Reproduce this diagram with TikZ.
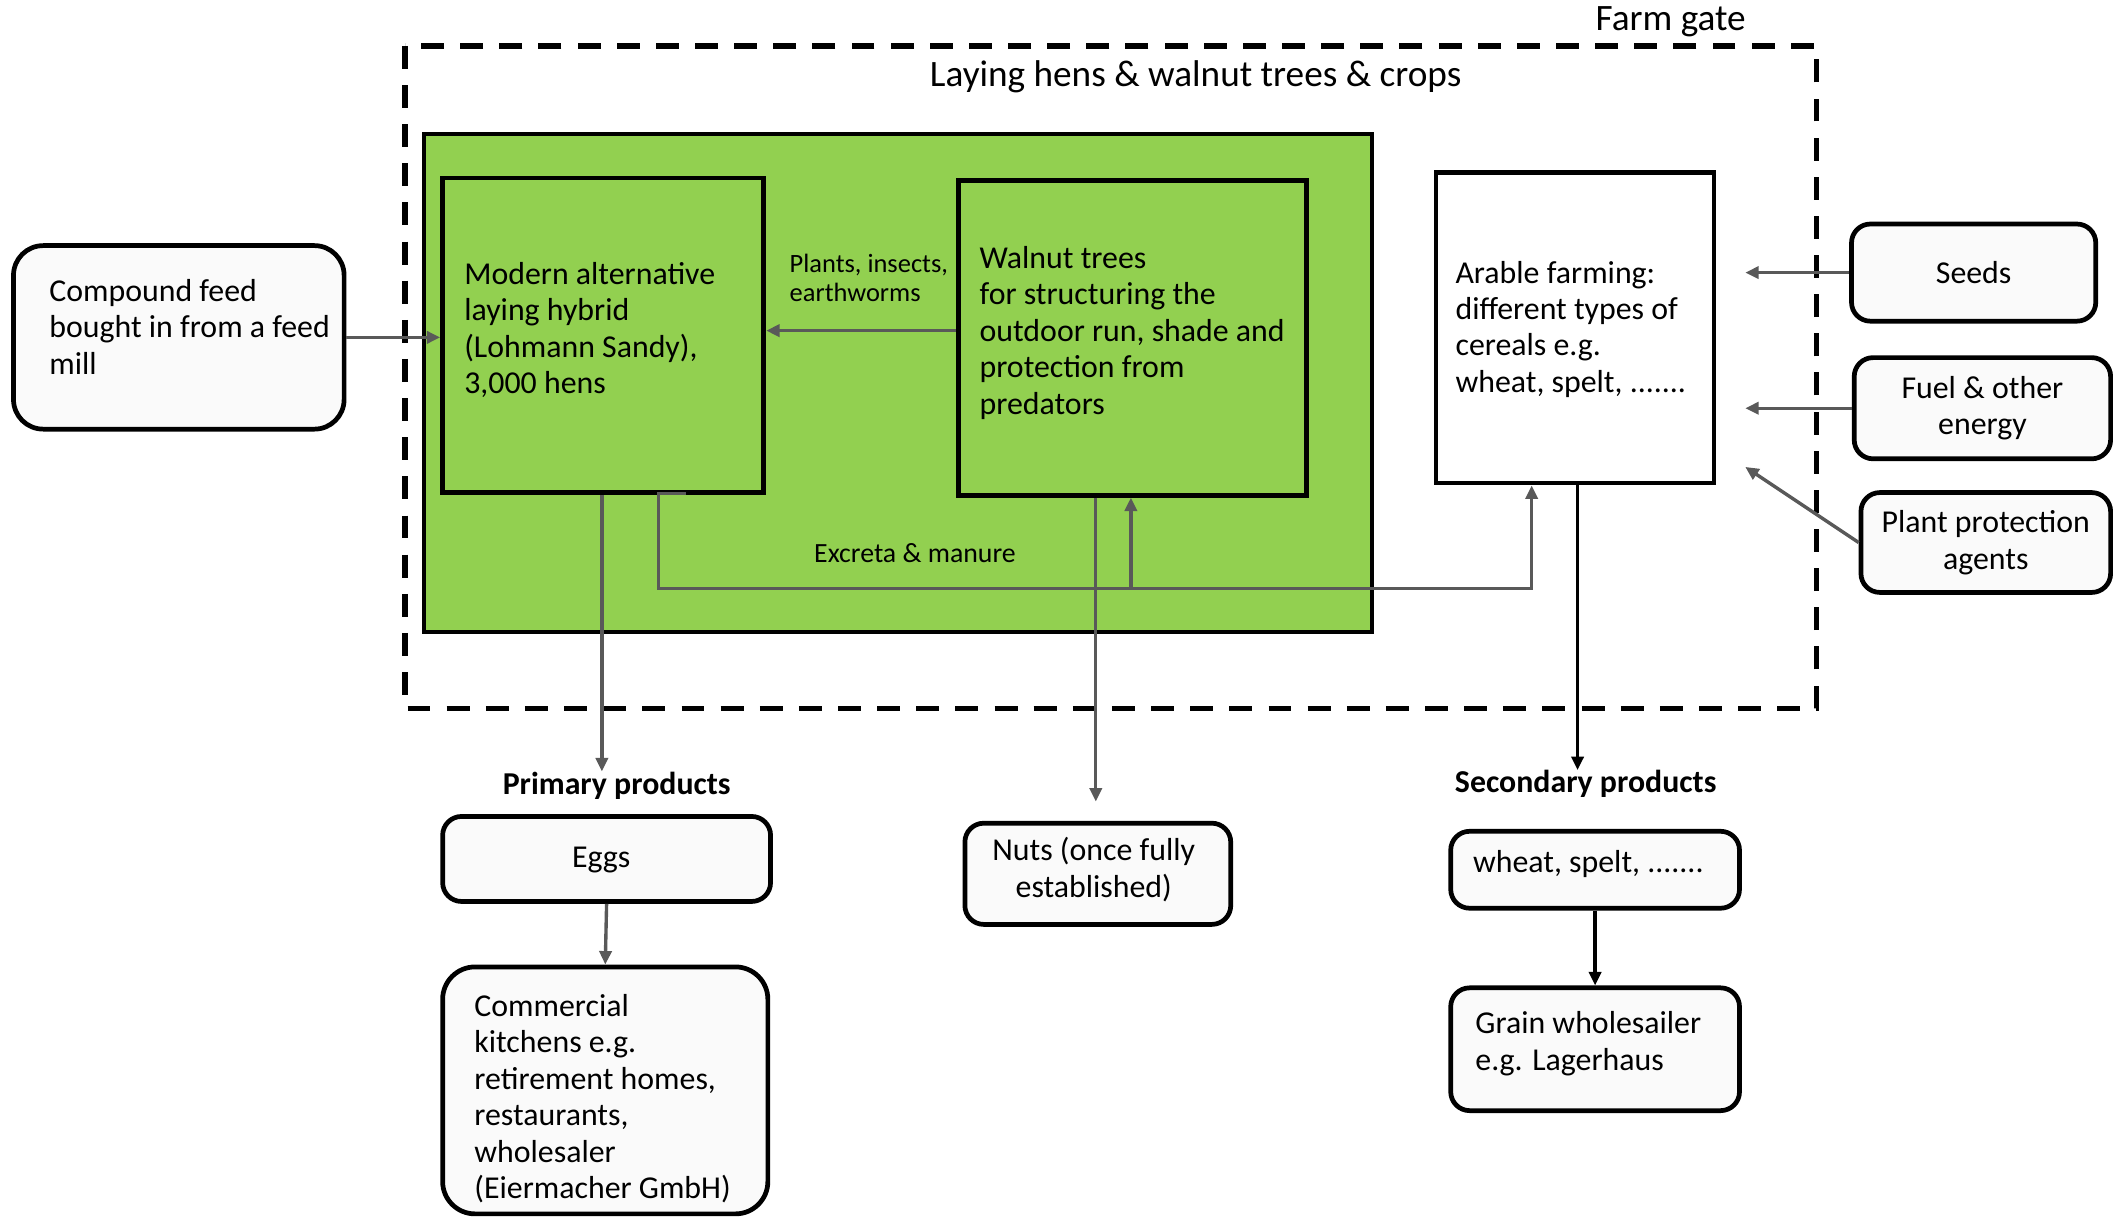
\documentclass[tikz,border=0pt]{standalone}
\usepackage{fontspec}
\setmainfont{Carlito}
\usetikzlibrary{arrows.meta,calc}
\definecolor{grassgreen}{HTML}{92D050}
\definecolor{flowgray}{HTML}{595959}
\definecolor{boxfill}{HTML}{FAFAFA}
\begin{document}
\begin{tikzpicture}[x=1pt,y=-1pt,
  every node/.style={font=\fontsize{23.6}{27}\selectfont, inner sep=0pt},
  unit/.style={draw=black, line width=3.5pt, fill=grassgreen},
  plainbox/.style={draw=black, line width=3.5pt, fill=white},
  roundbox/.style={draw=black, line width=3.5pt, fill=boxfill, rounded corners=14pt},
  boxtext/.style={align=left},
  flow/.style={draw=flowgray, line width=2.5pt, -{Triangle[length=10pt,width=9pt]}},
  gline/.style={draw=flowgray, line width=2.5pt},
  blackflow/.style={draw=black, line width=2.5pt, -{Triangle[length=10pt,width=9pt]}},
  heading/.style={font=\fontsize{23.6}{27}\selectfont\bfseries},
  small/.style={font=\fontsize{19.6}{22}\selectfont, align=left},
  bigtext/.style={font=\fontsize{27.6}{32}\selectfont},
]
\useasboundingbox (0,0) rectangle (1568,902);

% farm boundary
\draw[line width=4pt, dash pattern=on 17pt off 12pt] (300,34) rectangle (1346,525);
\node[bigtext] (gate) at (1238,16) {Farm gate};
\node[bigtext] (title) at (886,57) {Laying hens \& walnut trees \& crops};

% agroforestry area
\draw[line width=3pt, fill=grassgreen] (314,99) rectangle (1017,468);

\node[unit, minimum width=238pt, minimum height=233pt] (hens) at (447,248.5) {};
\node[boxtext] (hens-text) at ($(hens.center)+(-10,-4)$)
  {Modern alternative\\laying hybrid\\(Lohmann Sandy),\\3,000 hens};
\node[unit, minimum width=258pt, minimum height=233pt] (walnut) at (839,250.5) {};
\node[boxtext] (walnut-text) at ($(walnut.center)+(0,-4)$)
  {Walnut trees\\for structuring the\\outdoor run, shade and\\protection from\\predators};
\node[plainbox, minimum width=206pt, minimum height=230pt] (arable) at (1167,243) {};
\node[boxtext] (arable-text) at ($(arable.center)+(-3,1)$)
  {Arable farming:\\different types of\\cereals e.g.\\wheat, spelt, .......};

\node[small, anchor=west] (plants) at (585,206) {Plants, insects,\\earthworms};
\node[font=\fontsize{20.6}{24}\selectfont] (excreta) at (678,410) {Excreta \& manure};

% inputs
\node[roundbox, rounded corners=22pt, minimum width=245pt, minimum height=136pt] (feed) at (132.5,250) {};
\node[boxtext] (feed-text) at ($(feed.center)+(8,-8)$)
  {Compound feed\\bought in from a feed\\mill};
\node[roundbox, minimum width=181pt, minimum height=72pt] (seeds) at (1462.5,202) {Seeds};
\node[roundbox, align=center, minimum width=190pt, minimum height=75pt] (fuel) at (1469,302.5) {Fuel \& other\\energy};
\node[roundbox, align=center, minimum width=185pt, minimum height=74pt] (plant) at (1471.5,402) {Plant protection\\agents};

% products
\node[heading] (prim) at (457,582) {Primary products};
\node[heading] (sec) at (1175,581) {Secondary products};
\node[roundbox, minimum width=243pt, minimum height=63pt] (eggs) at (449.5,636.5) {};
\node (eggs-text) at ($(eggs.center)+(-4,1)$) {Eggs};
\node[roundbox, rounded corners=24pt, minimum width=241pt, minimum height=183pt] (kitchen) at (448.5,808) {};
\node[boxtext] (kitchen-text) at ($(kitchen.center)+(-2,6)$)
  {Commercial\\kitchens e.g.\\retirement homes,\\restaurants,\\wholesaler\\(Eiermacher GmbH)};
\node[roundbox, minimum width=197pt, minimum height=75pt] (nuts) at (813.5,647.5) {};
\node[align=center] (nuts-text) at ($(nuts.center)+(-3,-3)$) {Nuts (once fully\\established)};
\node[roundbox, minimum width=214pt, minimum height=57pt] (wheat) at (1182,644.5) {};
\node (wheat-text) at ($(wheat.center)+(-5,-4)$) {wheat, spelt, .......};
\node[roundbox, minimum width=214pt, minimum height=91pt] (grain) at (1182,777.5) {};
\node[boxtext] (grain-text) at ($(grain.center)+(-5,-4)$) {Grain wholesailer\\e.g. Lagerhaus};

% flows inside the farm
\draw[flow] (feed.east) -- (feed.east -| hens.west);
\draw[flow] ([yshift=5.5pt]walnut.west) -- ([yshift=5.5pt]walnut.west -| hens.east);

\coordinate (manure) at (838,436);
\draw[gline] ([xshift=61pt,yshift=1pt]hens.south) -- ([xshift=41pt,yshift=1pt]hens.south) |- (manure);
\draw[flow] (manure) -- (manure |- walnut.south);
\draw[flow] (manure) -| ([xshift=-32pt]arable.south);

% flows across the farm gate
\draw[flow] ([xshift=-1pt]hens.south) -- ([xshift=-1pt]hens.south |- prim.north);
\coordinate (nutsend) at (812,594);
\draw[flow] (walnut.south -| nutsend) -- (nutsend);
\draw[blackflow] ([xshift=2pt]arable.south) -- ([xshift=2pt]arable.south |- sec.north);

\draw[flow] (seeds.west) -- ++(-77,0);
\draw[flow] (fuel.west) -- ++(-79,0);
\draw[flow] (plant.west) -- ++(-84,-56);

% downstream chains
\draw[flow] (eggs.south) -- (kitchen.north);
\draw[blackflow] (wheat.south) -- (grain.north);
\end{tikzpicture}
\end{document}
